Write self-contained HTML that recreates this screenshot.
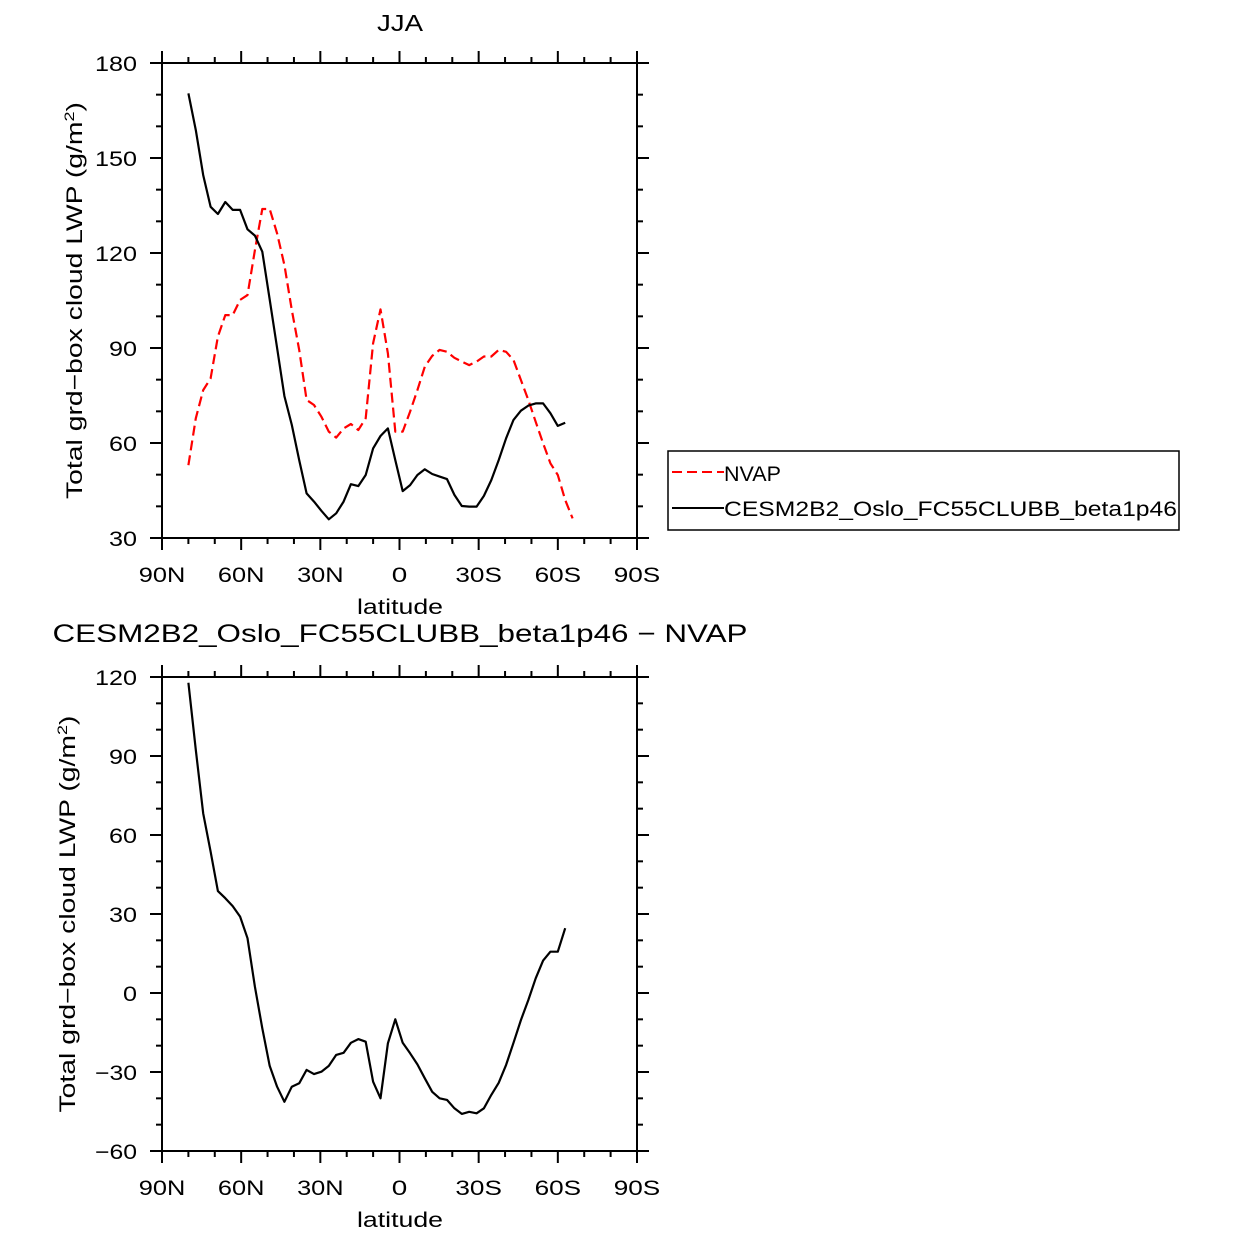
<!DOCTYPE html>
<html><head><meta charset="utf-8"><style>
html,body{margin:0;padding:0;background:#fff;}
svg{display:block;font-family:"Liberation Sans",sans-serif;}
</style></head><body>
<svg id="chart" width="1240" height="1238" viewBox="0 0 1240 1238"></svg>
<script>
const lats = [80.0,77.2,74.4,71.6,68.8,66.0,63.2,60.4,57.6,54.8,52.0,49.2,46.4,43.6,40.8,38.0,35.2,32.4,29.6,26.8,24.0,21.2,18.4,15.6,12.8,10.0,7.2,4.4,1.6,-1.2,-4.0,-6.8,-9.6,-12.4,-15.2,-18.0,-20.8,-23.6,-26.4,-29.2,-32.0,-34.8,-37.6,-40.4,-43.2,-46.0,-48.8,-51.6,-54.4,-57.2,-60.0,-62.8,-65.6];
const modelLwp = [170.4,158.8,144.6,134.6,132.3,136.1,133.6,133.6,127.5,125.5,120.4,105.3,90.0,74.8,65.7,54.6,44.1,41.5,38.6,35.9,37.8,41.5,47.0,46.4,49.9,58.3,62.2,64.6,54.6,44.8,46.7,49.9,51.7,50.2,49.4,48.6,43.6,40.1,39.9,39.9,43.3,48.3,54.6,61.5,67.3,70.2,71.8,72.5,72.5,69.4,65.4,66.4];
const nvapLwp = [53.0,67.8,76.7,80.4,93.6,100.4,100.4,105.2,106.7,120.9,133.9,133.9,126.2,116.2,102.0,89.4,73.6,72.0,68.3,63.6,61.7,64.6,66.0,64.1,67.8,91.5,102.2,88.3,63.6,63.6,69.9,76.7,84.1,87.5,89.4,88.8,86.9,85.7,84.6,85.7,87.3,87.3,89.4,88.8,86.2,79.9,73.6,66.7,59.9,53.6,49.9,42.0,36.2];
const diffLwp = [117.8,92.3,68.2,53.7,38.7,36.0,33.0,29.0,20.8,2.4,-13.4,-27.7,-35.6,-41.3,-35.6,-34.3,-29.2,-30.8,-29.9,-27.7,-23.5,-22.7,-18.9,-17.5,-18.5,-33.7,-40.0,-19.1,-10.0,-18.9,-22.9,-27.1,-32.4,-37.5,-40.0,-40.6,-43.8,-45.9,-45.1,-45.7,-43.8,-38.7,-34.1,-27.3,-18.9,-10.3,-2.7,5.6,12.3,15.7,15.7,24.6];
const xTickVals = [90,60,30,0,-30,-60,-90];
const xTickLabels = ["90N","60N","30N","0","30S","60S","90S"];
const topYTicks = [30,60,90,120,150,180];
const botYTicks = [-60,-30,0,30,60,90,120];

const NS="http://www.w3.org/2000/svg";
const svg=document.getElementById('chart');
function el(tag,attrs,parent){const e=document.createElementNS(NS,tag);for(const k in attrs)e.setAttribute(k,attrs[k]);(parent||svg).appendChild(e);return e;}
function txt(s,attrs,parent,len){const e=el('text',attrs,parent);e.textContent=s;if(len){e.setAttribute('textLength',len);e.setAttribute('lengthAdjust','spacingAndGlyphs');}return e;}

function panel(cfg){
  const g=el('g',{});
  
  
  const L=162,R=637,T=cfg.top,B=cfg.bottom;
  const xs=v=>L+(90-v)/180*(R-L);
  const ys=v=>B-(v-cfg.ymin)/(cfg.ymax-cfg.ymin)*(B-T);
  for(let v=-90;v<=90;v+=10){const x=xs(v);const major=v%30===0;const len=major?12:6;
    el('line',{x1:x,x2:x,y1:B,y2:B+len,stroke:'#000','stroke-width':2},g);
    el('line',{x1:x,x2:x,y1:T,y2:T-len,stroke:'#000','stroke-width':2},g);}
  for(let v=cfg.ymin;v<=cfg.ymax;v+=10){const y=ys(v);const major=(v-cfg.ymin)%30===0;const len=major?12:6;
    el('line',{x1:L,x2:L-len,y1:y,y2:y,stroke:'#000','stroke-width':2},g);
    el('line',{x1:R,x2:R+len,y1:y,y2:y,stroke:'#000','stroke-width':2},g);}
  el('rect',{x:L,y:T,width:R-L,height:B-T,fill:'none',stroke:'#000','stroke-width':2},g);
  xTickVals.forEach((v,i)=>{const s=xTickLabels[i];const t=txt(s,{x:xs(v),y:B+44,'font-size':21,'text-anchor':'middle'},g,s.length*15.5);
    
    });
  cfg.yticks.forEach(v=>{const s=String(v).replace('-','\u2212');const t=txt(s,{x:137,y:ys(v)+8,'font-size':21,'text-anchor':'end'},g,s.length*14);
    
    });
  const xt=txt('latitude',{x:400,y:B+76,'font-size':21,'text-anchor':'middle'},g,86);
  
  
  const cy=(T+B)/2;
  const yt=el('text',{x:cfg.ytx,y:cy,'font-size':22,'text-anchor':'middle',transform:`rotate(-90 ${cfg.ytx} ${cy})`,textLength:397,lengthAdjust:'spacingAndGlyphs'},g);
  
  
  yt.appendChild(document.createTextNode('Total grd\u2212box cloud LWP (g/m'));
  const sup=el('tspan',{dy:-8,'font-size':14},yt);sup.textContent='2';
  const cl=el('tspan',{dy:8},yt);cl.textContent=')';
  const tt=txt(cfg.title,{x:400,y:cfg.titleY,'font-size':cfg.titleSize,'text-anchor':'middle'},g,cfg.titleLen);
  
  
  cfg.series.forEach(s=>{
    const pts=s.vals.map((v,i)=>xs(lats[i]).toFixed(1)+','+ys(v).toFixed(1)).join(' ');
    const p=el('polyline',{points:pts,fill:'none',stroke:s.color,'stroke-width':2.2,'stroke-linejoin':'round'},g);
    if(s.dash)p.setAttribute('stroke-dasharray',s.dash);
    
    
  });
}
panel({name:'top-panel',top:63,bottom:538,ymin:30,ymax:180,yticks:topYTicks,ytx:82,title:'JJA',titleY:31,titleSize:23,titleLen:46,
  series:[{vals:nvapLwp,color:'#f00',dash:'10 5',name:'nvap-line'},{vals:modelLwp,color:'#000',name:'model-line'}]});
panel({name:'bottom-panel',top:677,bottom:1151,ymin:-60,ymax:120,yticks:botYTicks,ytx:75,title:'CESM2B2_Oslo_FC55CLUBB_beta1p46 \u2212 NVAP',titleY:642,titleSize:25,titleLen:695,
  series:[{vals:diffLwp,color:'#000',name:'difference-line'}]});

const lg=el('g',{});


el('rect',{x:668,y:451,width:511,height:79,fill:'#fff',stroke:'#000','stroke-width':1.5},lg);
el('line',{x1:672,x2:724,y1:472,y2:472,stroke:'#f00','stroke-width':2,'stroke-dasharray':'10 5'},lg);
const l1=txt('NVAP',{x:724,y:481,'font-size':21},lg,57);


el('line',{x1:672,x2:724,y1:508,y2:508,stroke:'#000','stroke-width':2},lg);
const l2=txt('CESM2B2_Oslo_FC55CLUBB_beta1p46',{x:724,y:516,'font-size':21},lg,453);


</script>
</body></html>
